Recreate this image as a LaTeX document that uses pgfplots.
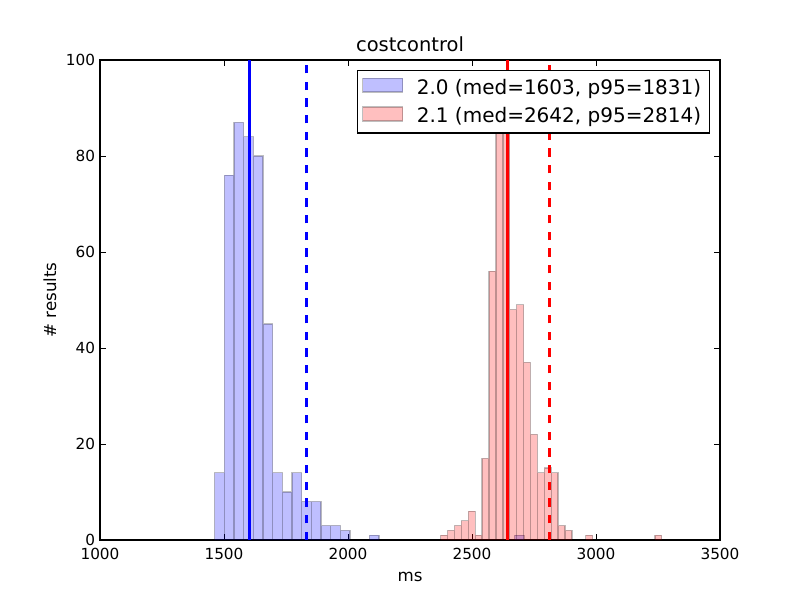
\documentclass[border=0pt]{standalone}
\usepackage{pgfplots}
\pgfplotsset{compat=1.18}
\usepackage{fontspec}
\setmainfont{DejaVu Sans}

\pgfplotstableread{
x y
1482 14
1521 76
1560 87
1599 84
1638 80
1677 45
1716 14
1755 10
1794 14
1833 8
1872 8
1911 3
1950 3
1989 2
2106 1
2691 1
}\blueh

\pgfplotstableread{
x y
2387.7 1
2415.6 2
2443.4 3
2471.3 4
2499.1 6
2527.0 1
2554.8 17
2582.7 56
2610.5 95
2638.4 93
2666.2 48
2694.1 49
2721.9 37
2749.8 22
2777.6 14
2805.5 15
2833.3 14
2861.2 3
2889.0 2
2972.6 1
3251.1 1
}\redh

\begin{document}
\begin{tikzpicture}
\path[use as bounding box] (0,0) rectangle (576pt,432pt);
\begin{axis}[
  at={(72pt,43.2pt)}, anchor=south west,
  scale only axis, width=446.4pt, height=345.6pt,
  xmin=1000, xmax=3500, ymin=0, ymax=100,
  xtick={1000,1500,...,3500}, ytick={0,20,...,100},
  tick align=inside, tick pos=both, major tick length=4pt,
  axis line style={line width=1pt},
  tick style={black, line width=0.5pt},
  ticklabel style={font=\fontsize{11}{13}\selectfont},
  xticklabel style={yshift=-2.5pt},
  /pgf/number format/assume math mode=true,
  /pgf/number format/1000 sep={},
  title={costcontrol},
  title style={font=\fontsize{14}{16}\selectfont, yshift=-3.6pt},
  xlabel={ms}, ylabel={\# results},
  xlabel style={yshift=-2pt},
  label style={font=\fontsize{12}{14}\selectfont},
  legend style={at={(0.9839,0.979)}, anchor=north east, draw=black, line width=1pt,
    fill=white, font=\fontsize{14.4}{16}\selectfont, inner xsep=3pt, inner ysep=3pt,
    nodes={inner sep=2.8pt}, row sep=2.6pt},
  legend cell align=left,
  legend image code/.code={
    \draw[#1] (5.2pt,-3.4pt) rectangle (34pt,6.6pt);
    \path (39pt,0pt);
  },
]
\addplot[ybar, bar width=39.0, bar shift=0pt, fill=blue, fill opacity=0.25,
  draw=black, draw opacity=0.25, line width=1pt] table[x=x,y=y] {\blueh};
\addlegendentry{\hspace{2pt}2.0 (med=1603, p95=1831)}
\addplot[ybar, bar width=27.85, bar shift=0pt, fill=red, fill opacity=0.25,
  draw=black, draw opacity=0.25, line width=1pt] table[x=x,y=y] {\redh};
\addlegendentry{\hspace{2pt}2.1 (med=2642, p95=2814)}
\addplot[forget plot, blue, line width=2pt] coordinates {(1603,0) (1603,100)};
\addplot[forget plot, blue, line width=2.2pt, dash pattern=on 6pt off 6pt] coordinates {(1831,0) (1831,100)};
\addplot[forget plot, red, line width=2pt] coordinates {(2642,0) (2642,100)};
\addplot[forget plot, red, line width=2pt, dash pattern=on 6pt off 6pt] coordinates {(2814,0) (2814,100)};
\end{axis}
\end{tikzpicture}
\end{document}
